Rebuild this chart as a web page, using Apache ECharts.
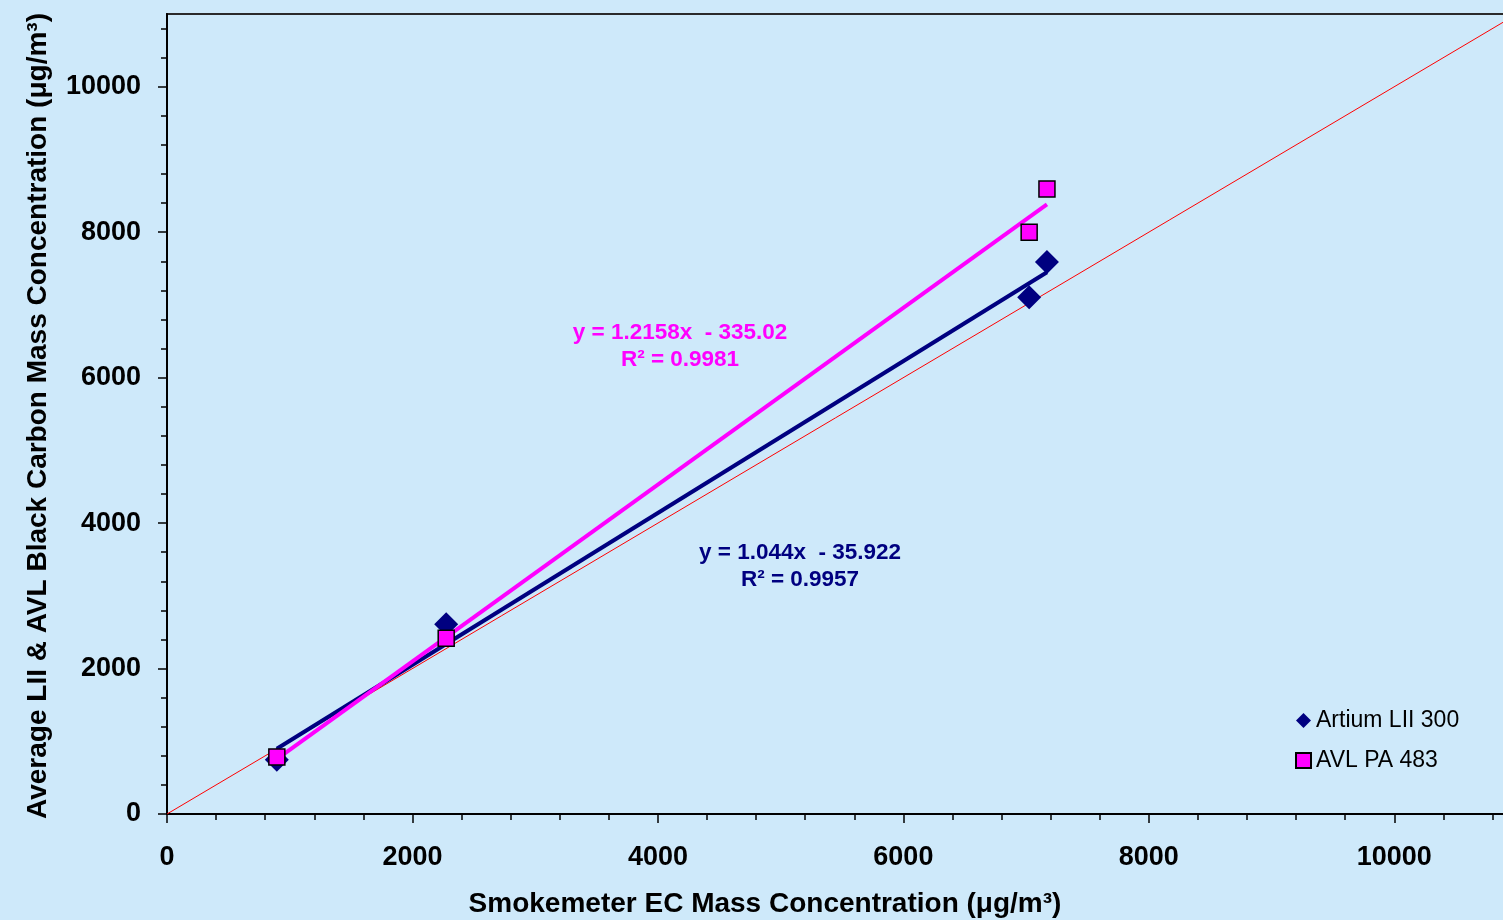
<!DOCTYPE html>
<html>
<head>
<meta charset="utf-8">
<script src="https://cdn.jsdelivr.net/npm/echarts@6/dist/echarts.min.js"></script>
<style>html,body{margin:0;padding:0;background:#CEE9FA;}#c{width:1503px;height:920px;}</style>
</head>
<body>
<div id="c"></div>
<script>
// ---- data ----
const smokeX = [895, 2275, 7025, 7170];
const artiumY = [745, 2610, 7105, 7590];
const avlY = [785, 2415, 8000, 8595];
const artiumTrend = [[895, 898], [7170, 7450]];   // trendline y = 1.044x - 35.922
const avlTrend = [[895, 753], [7170, 8382]];      // trendline y = 1.2158x - 335.02
const oneToOne = [[0, 0], [11000, 11000]];
const seriesNames = ['Artium LII 300', 'AVL PA 483'];
const majorTicks = [0, 2000, 4000, 6000, 8000, 10000];
const minorTicks = [400, 800, 1200, 1600, 2400, 2800, 3200, 3600, 4400, 4800, 5200, 5600,
  6400, 6800, 7200, 7600, 8400, 8800, 9200, 9600, 10400, 10800];
const eqLabels = {
  avl: ['y = 1.2158x  - 335.02', 'R² = 0.9981'],
  artium: ['y = 1.044x  - 35.922', 'R² = 0.9957']
};
const xTitle = 'Smokemeter EC Mass Concentration (μg/m³)';
const yTitle = 'Average LII & AVL Black Carbon Mass Concentration (μg/m³)';

const FONT = '"Liberation Sans", Arial, sans-serif';
const pts = (ys) => smokeX.map((x, i) => [x, ys[i]]);

const chart = echarts.init(document.getElementById('c'), null, {renderer: 'canvas'});
function majorAxis(margin) {
  return {
    type: 'value', min: 0, max: 11000,
    splitLine: {show: false},
    axisLine: {show: true, onZero: false, lineStyle: {color: '#000', width: 2}},
    axisTick: {show: true, inside: false, length: 9, customValues: majorTicks,
      lineStyle: {color: '#000', width: 1.5}},
    axisLabel: {show: true, customValues: majorTicks, margin: margin, color: '#000',
      fontWeight: 'bold', fontSize: 27, fontFamily: FONT, formatter: (v) => String(v)}
  };
}
function minorAxis() {
  return {
    type: 'value', min: 0, max: 11000,
    splitLine: {show: false},
    axisLine: {show: false, onZero: false},
    axisTick: {show: true, inside: false, length: 6, customValues: minorTicks,
      lineStyle: {color: '#000', width: 1.5}},
    axisLabel: {show: false}
  };
}
chart.setOption({
  backgroundColor: '#CEE9FA',
  animation: false,
  grid: {left: 167, top: 14, width: 1350, height: 800, show: true,
    outerBoundsMode: 'none', containLabel: false,
    borderColor: '#2a2a2a', borderWidth: 2, backgroundColor: 'transparent'},
  xAxis: [
    Object.assign(majorAxis(30), {position: 'bottom'}),
    Object.assign(minorAxis(), {position: 'bottom', offset: 0})
  ],
  yAxis: [
    Object.assign(majorAxis(26), {position: 'left'}),
    Object.assign(minorAxis(), {position: 'left', offset: 0})
  ],
  legend: {
    orient: 'vertical', left: 1290, top: 704, itemGap: 17,
    itemWidth: 15, itemHeight: 15,
    data: seriesNames,
    textStyle: {fontSize: 23, fontFamily: FONT, color: '#000', lineHeight: 23}
  },
  series: [
    {type: 'line', data: oneToOne, symbol: 'none',
      lineStyle: {color: '#FF0000', width: 1}, z: 1, silent: true},
    {type: 'line', data: artiumTrend, symbol: 'none',
      lineStyle: {color: '#000080', width: 4}, z: 2, silent: true},
    {type: 'line', data: avlTrend, symbol: 'none',
      lineStyle: {color: '#FF00FF', width: 4}, z: 3, silent: true},
    {name: seriesNames[0], type: 'scatter', data: pts(artiumY), symbol: 'diamond',
      symbolSize: 24, itemStyle: {color: '#000080', opacity: 1}, z: 4},
    {name: seriesNames[1], type: 'scatter', data: pts(avlY), symbol: 'rect',
      symbolSize: 16, itemStyle: {color: '#FF00FF', borderColor: '#000', borderWidth: 1.5, opacity: 1}, z: 5}
  ],
  graphic: [
    {type: 'text', x: 680, y: 333, style: {text: eqLabels.avl[0], font: 'bold 22.5px ' + FONT,
      fill: '#FF00FF', textAlign: 'center', textVerticalAlign: 'middle'}},
    {type: 'text', x: 680, y: 360, style: {text: eqLabels.avl[1], font: 'bold 22.5px ' + FONT,
      fill: '#FF00FF', textAlign: 'center', textVerticalAlign: 'middle'}},
    {type: 'text', x: 800, y: 553, style: {text: eqLabels.artium[0], font: 'bold 22.5px ' + FONT,
      fill: '#000080', textAlign: 'center', textVerticalAlign: 'middle'}},
    {type: 'text', x: 800, y: 580, style: {text: eqLabels.artium[1], font: 'bold 22.5px ' + FONT,
      fill: '#000080', textAlign: 'center', textVerticalAlign: 'middle'}},
    {type: 'text', x: 765, y: 904, style: {text: xTitle, font: 'bold 28px ' + FONT,
      fill: '#000', textAlign: 'center', textVerticalAlign: 'middle'}},
    {type: 'text', x: 38, y: 416, rotation: Math.PI / 2, style: {text: yTitle, font: 'bold 28px ' + FONT,
      fill: '#000', textAlign: 'center', textVerticalAlign: 'middle'}}
  ]
});
</script>
</body>
</html>
